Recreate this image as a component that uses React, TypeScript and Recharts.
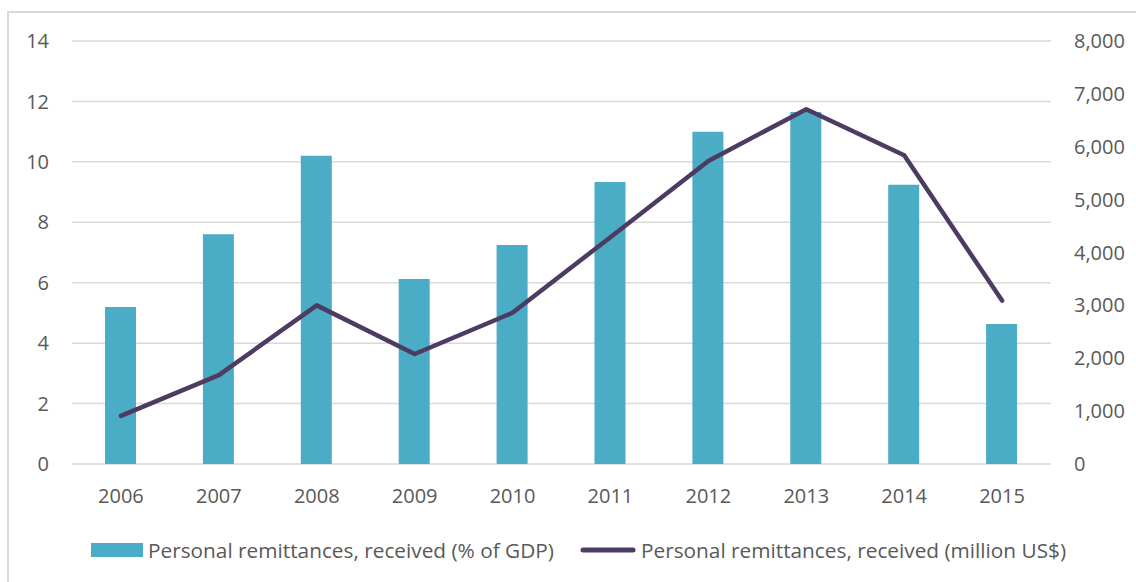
import { Bar, CartesianGrid, ComposedChart, Legend, Line, XAxis, YAxis } from "recharts"

const years = ["2006", "2007", "2008", "2009", "2010", "2011", "2012", "2013", "2014", "2015"]
const gdpShare = [5.2, 7.6, 10.2, 6.12, 7.25, 9.33, 11.0, 11.65, 9.24, 4.63]
const millionUsd = [910, 1680, 3000, 2080, 2860, 4290, 5730, 6710, 5840, 3090]
const leftTicks = [0, 2, 4, 6, 8, 10, 12, 14]
const rightTicks = [0, 1000, 2000, 3000, 4000, 5000, 6000, 7000, 8000]

const barLabel = "Personal remittances, received (% of GDP)"
const lineLabel = "Personal remittances, received (million US$)"

const data = years.map((year, i) => ({
  year,
  pct: gdpShare[i],
  usd: millionUsd[i],
}))

const font = "'Open Sans', 'DejaVu Sans', sans-serif"
const textColor = "#595959"
const barColor = "#4bacc6"
const lineColor = "#4d3b62"

function LegendContent() {
  return (
    <div
      style={{
        display: "flex",
        alignItems: "center",
        height: 40,
        paddingLeft: 91,
        fontFamily: font,
        fontSize: 20.8,
        color: textColor,
        whiteSpace: "nowrap",
      }}
    >
      <span style={{ display: "inline-block", width: 52, height: 14, background: barColor, marginRight: 5 }} />
      <span>{barLabel}</span>
      <svg width={56} height={10} style={{ marginLeft: 26, marginRight: 5 }}>
        <line x1={3} y1={5} x2={53} y2={5} stroke={lineColor} strokeWidth={5} strokeLinecap="round" />
      </svg>
      <span>{lineLabel}</span>
    </div>
  )
}

export default function App() {
  return (
    <div style={{ position: "absolute", left: 0, top: 0, width: 1136, height: 582, overflow: "hidden", background: "#fff" }}>
      <div
        style={{
          position: "absolute",
          left: 7,
          top: 11,
          width: 1200,
          height: 700,
          border: "2px solid #d9d9d9",
        }}
      />
      <div style={{ position: "absolute", left: 0, top: 0 }}>
        <ComposedChart
          width={1136}
          height={582}
          data={data}
          margin={{ top: 41, right: 0, bottom: 12, left: 0 }}
          barSize={31}
        >
          <CartesianGrid yAxisId="left" vertical={false} stroke="#d9d9d9" strokeWidth={1.5} />
          <XAxis
            dataKey="year"
            height={66}
            axisLine={false}
            tickLine={false}
            tickSize={0}
            tickMargin={25}
            tick={{ fill: textColor, fontSize: 20, fontFamily: font }}
          />
          <YAxis
            yAxisId="left"
            width={72}
            domain={[0, 14]}
            ticks={leftTicks}
            axisLine={false}
            tickLine={false}
            tickSize={0}
            tickMargin={23}
            tick={{ fill: textColor, fontSize: 20, fontFamily: font }}
          />
          <YAxis
            yAxisId="right"
            orientation="right"
            width={85}
            domain={[0, 8000]}
            ticks={rightTicks}
            axisLine={false}
            tickLine={false}
            tickSize={0}
            tickMargin={23}
            tickFormatter={(v: number) => v.toLocaleString("en-US")}
            tick={{ fill: textColor, fontSize: 20, fontFamily: font }}
          />
          <Bar yAxisId="left" dataKey="pct" name={barLabel} fill={barColor} isAnimationActive={false} />
          <Line
            yAxisId="right"
            dataKey="usd"
            name={lineLabel}
            stroke={lineColor}
            strokeWidth={4.5}
            strokeLinecap="round"
            strokeLinejoin="round"
            dot={false}
            activeDot={false}
            type="linear"
            isAnimationActive={false}
          />
          <Legend verticalAlign="bottom" height={40} content={<LegendContent />} />
        </ComposedChart>
      </div>
    </div>
  )
}
